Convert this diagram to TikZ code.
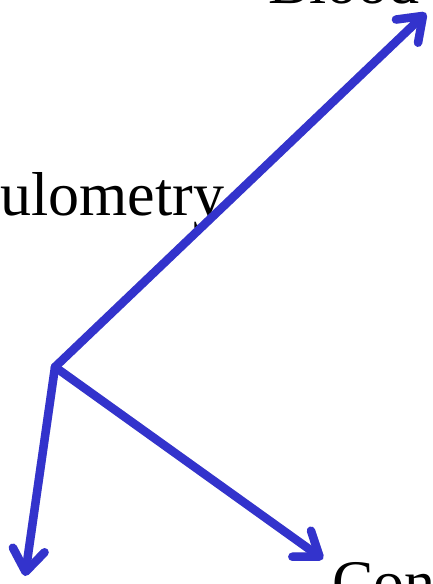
\documentclass[tikz,border=0pt]{standalone}
\usepackage{fontspec}
\setmainfont{Liberation Serif}
\usetikzlibrary{arrows.meta}
\definecolor{ArrBlue}{HTML}{3333CC}

\begin{document}
\begin{tikzpicture}[x=1pt,y=-1pt,line cap=round,line join=round,
    bigtext/.style={inner sep=0pt,anchor=base west,font=\fontsize{62}{70}\selectfont},
    vec/.style={ArrBlue,line width=8.5pt,-{Straight Barb[length=22pt,width=32pt,line cap=round,line join=round]}},
    vecshade/.style={vec,draw=black!40,opacity=.3,shift={(2,3)}}]
  \useasboundingbox (0,0) rectangle (433,584);
  \clip (0,0) rectangle (433,584);
  % labels, cut by the frame
  \node[bigtext] (coul) at (0,215) {ulometry};
  \node[bigtext] (blood) at (268,3) {Blood};
  \node[bigtext] (con) at (332,603) {Con};
  % arrows from the common foot
  \coordinate (hub) at (55,367);
  \coordinate (uptip) at (426,13);
  \coordinate (lefttip) at (25,576);
  \coordinate (righttip) at (323,559);
  \foreach \tip in {uptip,lefttip,righttip}
    \draw[vecshade] (hub) -- (\tip);
  \foreach \tip in {uptip,lefttip,righttip}
    \draw[vec] (hub) -- (\tip);
\end{tikzpicture}
\end{document}
